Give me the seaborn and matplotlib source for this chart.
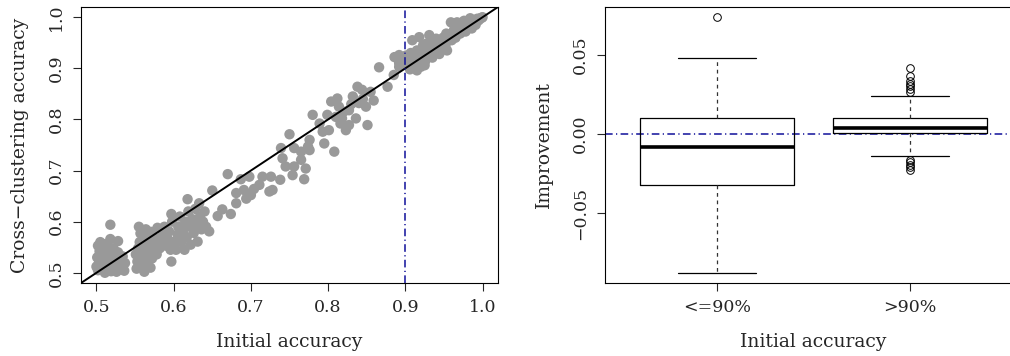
import numpy as np
import pandas as pd
import matplotlib
matplotlib.use("Agg")
import matplotlib.pyplot as plt
import seaborn as sns

# ---------------- data ----------------
initial_acc = [
    # cluster ~0.50-0.54
    0.502, 0.503, 0.501, 0.504, 0.502, 0.506, 0.508, 0.509, 0.507, 0.510, 0.511, 0.512,
    0.514, 0.515, 0.516, 0.513, 0.518, 0.518, 0.519, 0.520, 0.521, 0.522, 0.524, 0.525,
    0.526, 0.527, 0.528, 0.530, 0.531, 0.533, 0.534, 0.536, 0.537, 0.505, 0.500, 0.528,
    # cluster ~0.55-0.58
    0.552, 0.553, 0.551, 0.554, 0.556, 0.555, 0.558, 0.559, 0.560, 0.561, 0.562, 0.563,
    0.565, 0.566, 0.567, 0.568, 0.570, 0.571, 0.572, 0.573, 0.575, 0.576, 0.578, 0.579,
    0.557, 0.564,
    # 0.58-0.60
    0.582, 0.584, 0.586, 0.588, 0.590, 0.592, 0.594, 0.596, 0.597, 0.597, 0.599, 0.598,
    # 0.60-0.65
    0.603, 0.605, 0.606, 0.608, 0.610, 0.612, 0.614, 0.615, 0.617, 0.618, 0.619, 0.621,
    0.622, 0.624, 0.626, 0.628, 0.630, 0.631, 0.633, 0.634, 0.636, 0.638, 0.640, 0.642,
    0.646, 0.650,
    # 0.65-0.70
    0.657, 0.663, 0.674, 0.670, 0.681, 0.681, 0.687, 0.691, 0.698, 0.700, 0.694,
    # 0.70-0.78
    0.704, 0.711, 0.715, 0.726, 0.724, 0.728, 0.738, 0.745, 0.741, 0.739, 0.750, 0.754,
    0.756, 0.756, 0.765, 0.765, 0.769, 0.771, 0.774, 0.776, 0.776,
    # 0.78-0.90
    0.780, 0.789, 0.793, 0.795, 0.799, 0.801, 0.804, 0.808, 0.812, 0.814, 0.816, 0.818,
    0.823, 0.827, 0.827, 0.832, 0.836, 0.838, 0.840, 0.844, 0.849, 0.851, 0.855, 0.859,
    0.866, 0.877, 0.885, 0.892, 0.886, 0.892, 0.892, 0.899, 0.820, 0.830, 0.845, 0.810,
    # > 0.90
    0.901, 0.903, 0.904, 0.906, 0.907, 0.909, 0.910, 0.912, 0.913, 0.915, 0.916, 0.918,
    0.919, 0.920, 0.922, 0.923, 0.925, 0.926, 0.927, 0.929, 0.930, 0.931, 0.932, 0.934,
    0.935, 0.936, 0.938, 0.939, 0.940, 0.941, 0.943, 0.944, 0.946, 0.947, 0.949, 0.950,
    0.952, 0.953, 0.954, 0.956, 0.957, 0.959, 0.960, 0.962, 0.963, 0.965, 0.966, 0.968,
    0.969, 0.971, 0.972, 0.974, 0.975, 0.977, 0.978, 0.980, 0.981, 0.983, 0.985, 0.986,
    0.988, 0.990, 0.991, 0.993, 0.995, 0.997, 0.999, 1.000, 0.984, 0.976, 0.967, 0.915,
    0.925,
]
cross_acc = [
    0.505, 0.518, 0.530, 0.542, 0.553, 0.548, 0.510, 0.524, 0.536, 0.556, 0.500, 0.541,
    0.515, 0.529, 0.550, 0.506, 0.566, 0.594, 0.503, 0.521, 0.537, 0.548, 0.510, 0.528,
    0.502, 0.517, 0.540, 0.507, 0.524, 0.512, 0.532, 0.504, 0.519, 0.560, 0.512, 0.562,
    0.508, 0.522, 0.536, 0.548, 0.560, 0.590, 0.515, 0.530, 0.543, 0.572, 0.502, 0.556,
    0.521, 0.535, 0.566, 0.548, 0.510, 0.580, 0.528, 0.541, 0.555, 0.568, 0.536, 0.588,
    0.577, 0.585,
    0.548, 0.561, 0.575, 0.590, 0.553, 0.567, 0.581, 0.545, 0.522, 0.615, 0.560, 0.600,
    0.545, 0.575, 0.590, 0.610, 0.560, 0.583, 0.545, 0.600, 0.570, 0.644, 0.620, 0.590,
    0.555, 0.605, 0.578, 0.625, 0.595, 0.561, 0.636, 0.610, 0.585, 0.600, 0.620, 0.590,
    0.581, 0.661,
    0.611, 0.624, 0.615, 0.693, 0.636, 0.656, 0.683, 0.662, 0.688, 0.652, 0.645,
    0.664, 0.672, 0.688, 0.688, 0.659, 0.662, 0.682, 0.708, 0.724, 0.744, 0.771, 0.691,
    0.708, 0.744, 0.721, 0.737, 0.683, 0.704, 0.747, 0.740, 0.760,
    0.809, 0.792, 0.776, 0.753, 0.809, 0.779, 0.835, 0.737, 0.841, 0.825, 0.792, 0.802,
    0.779, 0.818, 0.789, 0.845, 0.802, 0.864, 0.832, 0.858, 0.825, 0.789, 0.854, 0.837,
    0.902, 0.864, 0.887, 0.910, 0.922, 0.926, 0.903, 0.910, 0.815, 0.830, 0.840, 0.805,
    0.925, 0.905, 0.915, 0.898, 0.930, 0.955, 0.912, 0.920, 0.900, 0.935, 0.925, 0.961,
    0.915, 0.903, 0.930, 0.945, 0.926, 0.915, 0.948, 0.935, 0.925, 0.965, 0.940, 0.930,
    0.921, 0.950, 0.942, 0.932, 0.958, 0.945, 0.938, 0.928, 0.952, 0.942, 0.960, 0.950,
    0.945, 0.968, 0.935, 0.958, 0.962, 0.990, 0.955, 0.968, 0.975, 0.960, 0.985, 0.972,
    0.980, 0.968, 0.981, 0.990, 0.975, 0.985, 0.972, 0.990, 0.982, 0.993, 0.985, 0.978,
    0.994, 0.990, 0.985, 0.997, 0.994, 0.998, 0.999, 1.000, 0.998, 0.993, 0.990, 0.896,
    0.906,
]

group_labels = ["<=90%", ">90%"]
box_q1 = [-0.0323, 0.0004]
box_median = [-0.0082, 0.0038]
box_q3 = [0.0101, 0.0101]
box_whisker_low = [-0.0880, -0.0137]
box_whisker_high = [0.0481, 0.0240]
outliers_low_group = [0.0740]
outliers_high_group = [0.0420, 0.0369, 0.0335, 0.0318, 0.0302, 0.0285, 0.0268,
                       -0.0165, -0.0179, -0.0196, -0.0211, -0.0226]

threshold = 0.9

# ---------------- style ----------------
sns.set_style("white")
plt.rcParams["font.family"] = ["DejaVu Serif", "DejaVu Sans"]
plt.rcParams["font.size"] = 12.5
plt.rcParams["axes.linewidth"] = 0.8
plt.rcParams["xtick.direction"] = "out"
plt.rcParams["ytick.direction"] = "out"

W, H = 1010, 356
fig = plt.figure(figsize=(W / 100, H / 100), dpi=100)

ax1 = fig.add_axes([81 / W, (H - 283) / H, 417 / W, 276 / H])
ax2 = fig.add_axes([605 / W, (H - 283) / H, 417 / W, 276 / H])

blue = "#10109a"
dotdash = (0, (5, 2.2, 0.8, 2.2))
label_fs = 13.5
tick_fs = 12.5

# ---------------- left: scatter ----------------
df = pd.DataFrame({"initial": initial_acc, "cross": cross_acc})
sns.scatterplot(data=df, x="initial", y="cross", ax=ax1, color="#999999",
                s=56, edgecolor="none", linewidth=0, zorder=2)
ax1.axline((0.5, 0.5), (1.0, 1.0), color="black", lw=1.4, zorder=3)
ax1.axvline(threshold, color=blue, lw=1.1, linestyle=dotdash, zorder=3)
ax1.set_xlim(0.48, 1.02)
ax1.set_ylim(0.48, 1.02)
ticks = [0.5, 0.6, 0.7, 0.8, 0.9, 1.0]
ax1.set_xticks(ticks)
ax1.set_yticks(ticks)
ax1.set_xticklabels([f"{t:.1f}" for t in ticks])
ax1.set_yticklabels([f"{t:.1f}" for t in ticks], rotation=90, va="center")
ax1.set_xlabel("Initial accuracy", fontsize=label_fs, labelpad=12)
ax1.set_ylabel("Cross\u2212clustering accuracy", fontsize=label_fs, labelpad=14)

# ---------------- right: boxplot ----------------
fliers = [outliers_low_group, outliers_high_group]
stats = []
for i, lab in enumerate(group_labels):
    stats.append(dict(label=lab, med=box_median[i], q1=box_q1[i], q3=box_q3[i],
                      whislo=box_whisker_low[i], whishi=box_whisker_high[i],
                      fliers=fliers[i]))
ax2.axhline(0, color=blue, lw=1.1, linestyle=dotdash, zorder=1)
ax2.bxp(stats, positions=[1, 2], widths=0.8, capwidths=0.4, patch_artist=False,
        boxprops=dict(color="black", lw=0.9),
        medianprops=dict(color="black", lw=2.6),
        whiskerprops=dict(color="#333333", lw=0.9, linestyle=(0, (3, 3))),
        capprops=dict(color="black", lw=0.9),
        flierprops=dict(marker="o", markerfacecolor="none", markeredgecolor="black",
                        markersize=5.5, markeredgewidth=0.7))
ax2.set_xlim(0.42, 2.58)
ax2.set_ylim(-0.0943, 0.0804)
ax2.set_xticks([1, 2])
ax2.set_xticklabels(group_labels)
yt = [-0.05, 0.0, 0.05]
ax2.set_yticks(yt)
ax2.set_yticklabels(["\u22120.05", "0.00", "0.05"], rotation=90, va="center")
ax2.set_xlabel("Initial accuracy", fontsize=label_fs, labelpad=12)
ax2.set_ylabel("Improvement", fontsize=label_fs, labelpad=14)

for ax in (ax1, ax2):
    for sp in ax.spines.values():
        sp.set_visible(True)
        sp.set_color("black")
        sp.set_linewidth(0.8)
    ax.tick_params(axis="both", labelsize=tick_fs, pad=6, length=5.5, width=0.8,
                   bottom=True, left=True)

fig.savefig("out.png", dpi=100)
